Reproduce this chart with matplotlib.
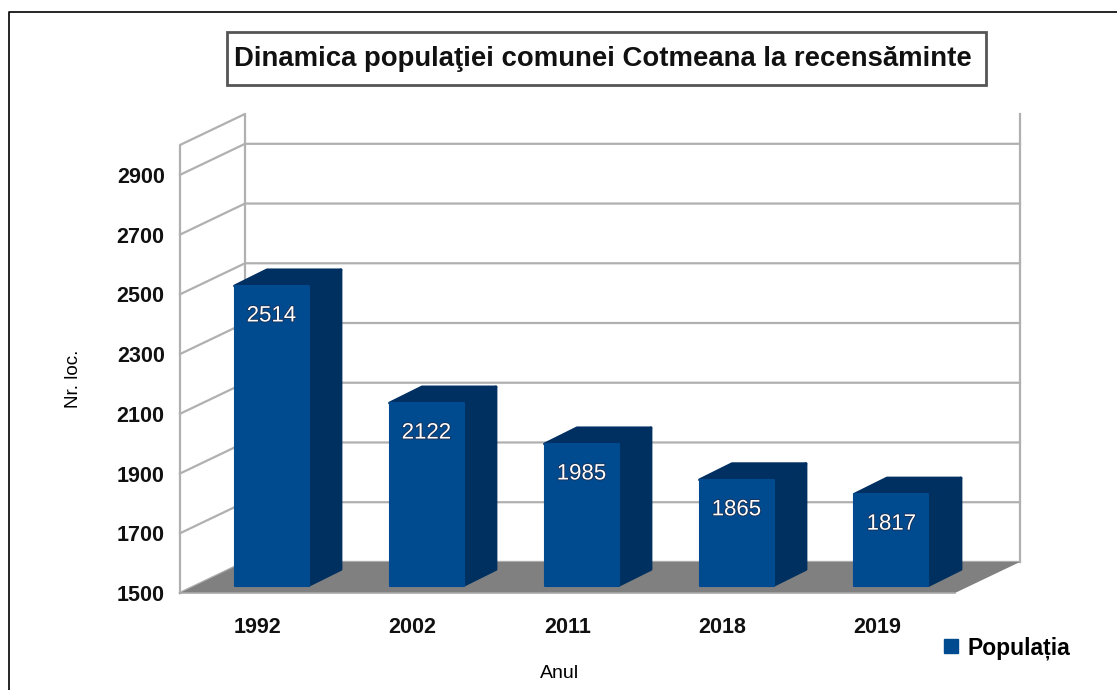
import matplotlib
matplotlib.use('Agg')
import matplotlib.pyplot as plt
import matplotlib.patheffects as pe
from matplotlib.lines import Line2D
from matplotlib.patches import Polygon, Rectangle

plt.rcParams['font.family'] = ['Liberation Sans', 'DejaVu Sans']

years = ['1992', '2002', '2011', '2018', '2019']
population = [2514, 2122, 1985, 1865, 1817]
y_ticks = [1500, 1700, 1900, 2100, 2300, 2500, 2700, 2900]
series_name = 'Populația'
title = 'Dinamica populaţiei comunei Cotmeana la recensăminte'

W, H = 1117, 690
y_min, y_max = 1500, 3000

# fake 3D depth, in data units of the axes
wall_dx, wall_dy = 65 / 155, 104
bar_dx, bar_dy = 32.5 / 155, 54
bar_x0, bar_y0 = 14 / 155, 1525
bar_lift = 14  # bars stand a bit behind the front plane
bar_w = 74 / 155

grid_col = '#b0b0b0'
front_col = '#004a90'
side_col = '#00305f'
top_col = '#002f62'


def fx(px):
    return px / W


def fy(px):
    return 1 - px / H


fig = plt.figure(figsize=(W / 100, H / 100), dpi=100)
ax = fig.add_axes([fx(180), fy(593), fx(955 - 180), fy(145) - fy(593)])
ax.set_xlim(-0.5, 4.5)
ax.set_ylim(y_min, y_max)
ax.patch.set_visible(False)
for s in ax.spines.values():
    s.set_visible(False)

# walls
x_l, x_r = ax.get_xlim()
for t in y_ticks:
    ax.plot([x_l, x_l + wall_dx, x_r + wall_dx], [t, t + wall_dy, t + wall_dy],
            color=grid_col, lw=1.6, clip_on=False, zorder=1)
ax.plot([x_l, x_l + wall_dx, x_l + wall_dx, x_l, x_l],
        [y_min, y_min + wall_dy, y_max + wall_dy, y_max, y_min],
        color=grid_col, lw=1.6, clip_on=False, zorder=1)
ax.plot([x_r + wall_dx, x_r + wall_dx], [y_min + wall_dy, y_max + wall_dy],
        color=grid_col, lw=1.6, clip_on=False, zorder=1)

# floor
ax.add_patch(Polygon([(x_l, y_min), (x_r, y_min), (x_r + wall_dx, y_min + wall_dy),
                      (x_l + wall_dx, y_min + wall_dy)],
                     closed=True, fc='#808080', ec='none', clip_on=False, zorder=2))
ax.plot([x_l, x_r], [y_min, y_min], color='#a8a8a8', lw=1.2, clip_on=False, zorder=2)

# bars
for i, v in enumerate(population):
    x0 = i + bar_x0 - bar_w / 2
    x1 = x0 + bar_w
    y0 = bar_y0
    y1 = v + bar_lift
    side = Polygon([(x1, y0), (x1 + bar_dx, y0 + bar_dy), (x1 + bar_dx, y1 + bar_dy), (x1, y1)],
                   closed=True, fc=side_col, ec=side_col, lw=2, joinstyle='round',
                   clip_on=False, zorder=3)
    top = Polygon([(x0, y1), (x1, y1), (x1 + bar_dx, y1 + bar_dy), (x0 + bar_dx, y1 + bar_dy)],
                  closed=True, fc=top_col, ec=top_col, lw=2, joinstyle='round',
                  clip_on=False, zorder=3)
    front = Rectangle((x0, y0), bar_w, y1 - y0, fc=front_col, ec=front_col, lw=1.5,
                      joinstyle='round', clip_on=False, zorder=4)
    ax.add_patch(side)
    ax.add_patch(top)
    ax.add_patch(front)
    ax.annotate(str(v), (i + bar_x0, y1), xytext=(0, -30), textcoords='offset pixels',
                ha='center', va='center', color='white', fontsize=16, zorder=5,
                path_effects=[pe.withStroke(linewidth=1.2, foreground='#1c2f50')])

ax.set_xticks(range(len(years)), years)
ax.set_yticks(y_ticks)
ax.tick_params(length=0)
ax.tick_params(axis='x', pad=17)
ax.tick_params(axis='y', pad=11)
for lab in ax.get_xticklabels() + ax.get_yticklabels():
    lab.set_fontsize(15.5)
    lab.set_fontweight('bold')
    lab.set_color('#111111')

fig.text(fx(74), fy(379), 'Nr. loc.', rotation=90, ha='center', va='center', fontsize=13.5)
fig.text(fx(560), fy(674), 'Anul', ha='center', va='center', fontsize=14)

# title box
fig.add_artist(Rectangle((fx(227), fy(85)), fx(986 - 227), fy(32) - fy(85),
                         transform=fig.transFigure, fc='white', ec='#555555', lw=2))
fig.text(fx(603), fy(59), title, ha='center', va='center', fontsize=19.8, fontweight='bold',
         color='#111111')

ax.legend(handles=[Line2D([], [], ls='none', marker='s', ms=10, color=front_col, label=series_name)],
          loc='center left', bbox_to_anchor=(fx(937), fy(648)), bbox_transform=fig.transFigure,
          frameon=False, handlelength=1.2, handletextpad=0.15, borderpad=0, borderaxespad=0,
          prop={'size': 16.5, 'weight': 'bold'})

# image frame
fig.add_artist(Line2D([fx(9), fx(9), 1], [0, fy(12), fy(12)], transform=fig.transFigure,
                      color='black', lw=1.2))

fig.savefig('out.png', dpi=100)
